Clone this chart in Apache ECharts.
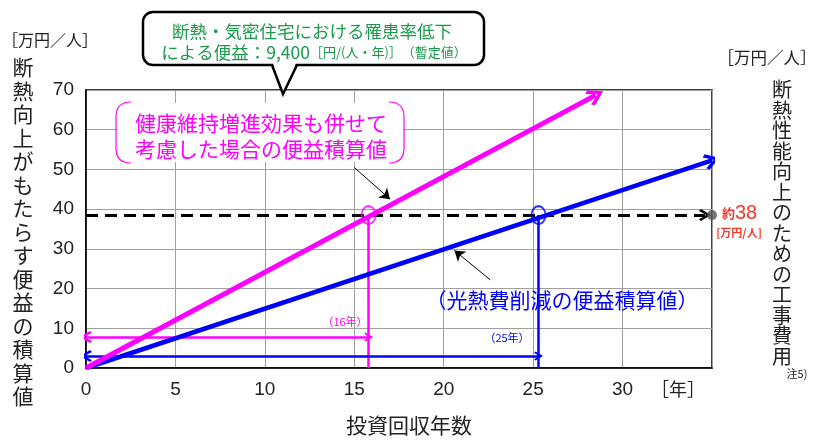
<!DOCTYPE html>
<html>
<head>
<meta charset="utf-8">
<script src="https://cdn.jsdelivr.net/npm/echarts@6/dist/echarts.min.js"></script>
<style>
  html, body { margin: 0; padding: 0; background: #fff; }
  #main { width: 819px; height: 445px; }
</style>
</head>
<body>
<div id="main"></div>
<script>
// 目盛
var xTicks = [0, 5, 10, 15, 20, 25, 30];
var yTicks = [0, 10, 20, 30, 40, 50, 60, 70];
// 便益積算値の直線（始点・終点）
var healthLine = [[0, 0], [28.5, 68.7]];
var energyLine = [[0, 0], [35, 52.3]];
// 工事費用（約38万円/人）
var costLevel = 38.5;
var costLine = [[0, 38.5], [34.6, 38.5]];
var costDot = [[35, 38.5]];
// 回収年数
var paybackHealth = 15.8;
var paybackEnergy = 25.3;
var healthSpan = [[0, 7.8], [15.8, 7.8]];
var energySpan = [[0, 3], [25.3, 3]];
// 引出線
var healthPointer = [[15, 50.5], [17, 42.5]];
var energyPointer = [[22.6, 22.2], [20.6, 29.6]];

var MAGENTA = '#ff00ff', BLUE = '#0000ff', GREEN = '#1a9a4a', RED = '#f03a2a';
var JP = '"Noto Sans CJK JP", sans-serif';
var NUM = '"Liberation Sans", Arial, sans-serif';
var chevron = 'path://M5,0 L10,7 L8.5,8.5 L5,3.2 L1.5,8.5 L0,7 Z';

function vert(s) { return s.split('').join('\n'); }

function arrowLine(coords, color, width, ends, size, dash) {
  return {
    type: 'lines',
    coordinateSystem: 'cartesian2d',
    data: [{ coords: coords }],
    symbol: ends,
    symbolSize: size,
    lineStyle: { color: color, width: width, type: dash || 'solid', opacity: 1 },
    silent: true,
    z: 3
  };
}

// 括弧型の枠（左右）
function bracket(x, dir) {
  var st = { stroke: MAGENTA, lineWidth: 1.2, fill: null };
  var e = x + dir * 15;
  return [
    { type: 'bezierCurve', z: 9, shape: { x1: e, y1: 102, cpx1: x, cpy1: 102, x2: x, y2: 117 }, style: st },
    { type: 'line', z: 9, shape: { x1: x, y1: 117, x2: x, y2: 148 }, style: st },
    { type: 'bezierCurve', z: 9, shape: { x1: x, y1: 148, cpx1: x, cpy1: 163, x2: e, y2: 163 }, style: st }
  ];
}

var myChart = echarts.init(document.getElementById('main'));

var option = {
  animation: false,
  backgroundColor: '#fff',
  grid: { left: 86, right: 107, top: 90, bottom: 77, show: true, borderColor: '#000', borderWidth: 1.5 },
  xAxis: {
    type: 'value', min: 0, max: 35, interval: 5,
    axisLine: { show: true, lineStyle: { color: '#000', width: 1.5 } },
    axisTick: { show: false },
    splitLine: { lineStyle: { color: '#a0a0a0', width: 1 } },
    axisLabel: {
      color: '#222', fontFamily: NUM, fontSize: 19, margin: 12,
      formatter: function (v) { return xTicks.indexOf(v) >= 0 ? String(v) : ''; }
    }
  },
  yAxis: {
    type: 'value', min: 0, max: 70, interval: 10,
    axisLine: { show: true, lineStyle: { color: '#000', width: 1.5 } },
    axisTick: { show: false },
    splitLine: { lineStyle: { color: '#a0a0a0', width: 1 } },
    axisLabel: {
      color: '#222', fontFamily: NUM, fontSize: 19, margin: 12,
      formatter: function (v) { return yTicks.indexOf(v) >= 0 ? String(v) : ''; }
    }
  },
  series: [
    arrowLine(costLine, '#000', 3, ['none', chevron], [14, 12], [12, 7]),
    arrowLine([[paybackHealth, 0], [paybackHealth, costLevel]], MAGENTA, 2.5, ['none', 'none'], 1),
    arrowLine([[paybackEnergy, 0], [paybackEnergy, costLevel]], BLUE, 2.5, ['none', 'none'], 1),
    arrowLine(healthSpan, MAGENTA, 2.5, [chevron, chevron], [12, 9]),
    arrowLine(energySpan, BLUE, 2.5, [chevron, chevron], [12, 9]),
    arrowLine(energyLine, BLUE, 4.5, ['none', chevron], [22, 16]),
    arrowLine(healthLine, MAGENTA, 5, ['none', chevron], [24, 17]),
    arrowLine(healthPointer, '#000', 1, ['none', 'arrow'], [6, 10]),
    arrowLine(energyPointer, '#000', 1, ['none', 'arrow'], [6, 10]),
    {
      type: 'scatter', data: [[paybackHealth, costLevel]], symbol: 'circle', symbolSize: [14, 18],
      itemStyle: { color: 'rgba(0,0,0,0)', borderColor: MAGENTA, borderWidth: 2 }, z: 5, silent: true
    },
    {
      type: 'scatter', data: [[paybackEnergy, costLevel]], symbol: 'circle', symbolSize: [14, 18],
      itemStyle: { color: 'rgba(0,0,0,0)', borderColor: BLUE, borderWidth: 2 }, z: 5, silent: true
    },
    {
      type: 'scatter', data: costDot, symbol: 'circle', symbolSize: 10,
      itemStyle: { color: '#555' }, z: 6, silent: true
    }
  ],
  graphic: [
    // 吹き出し
    { type: 'rect', shape: { x: 143, y: 12, width: 341, height: 53, r: 10 },
      style: { fill: '#fff', stroke: '#000', lineWidth: 2.5 }, z: 10 },
    { type: 'polygon', shape: { points: [[272, 61], [283, 93], [297, 61]] },
      style: { fill: '#fff' }, z: 11 },
    { type: 'polyline', shape: { points: [[272, 65], [283, 94], [297, 65]] },
      style: { stroke: '#000', lineWidth: 2.5, fill: null }, z: 11 },
    { type: 'text', x: 312, y: 31, z: 12,
      style: { text: '断熱・気密住宅における罹患率低下', fill: GREEN, font: '17.5px ' + JP, align: 'center', verticalAlign: 'middle' } },
    { type: 'text', x: 314, y: 52, z: 12,
      style: {
        text: '{a|による便益：9,400}{b|［円/(人・年)］}{b|（暫定値）}',
        fill: GREEN, align: 'center', verticalAlign: 'middle',
        rich: {
          a: { fill: GREEN, fontSize: 17.5, fontFamily: JP },
          b: { fill: GREEN, fontSize: 13, fontFamily: JP }
        }
      } },
    // 健康維持増進効果の枠
    { type: 'rect', shape: { x: 118, y: 103, width: 285, height: 59 },
      style: { fill: '#fff' }, z: 8 }
  ].concat(bracket(116, 1), bracket(404, -1), [
    { type: 'text', x: 261, y: 123, z: 10,
      style: { text: '健康維持増進効果も併せて', fill: MAGENTA, font: '21px ' + JP, align: 'center', verticalAlign: 'middle' } },
    { type: 'text', x: 261, y: 149, z: 10,
      style: { text: '考慮した場合の便益積算値', fill: MAGENTA, font: '21px ' + JP, align: 'center', verticalAlign: 'middle' } },
    // 光熱費削減
    { type: 'text', x: 562, y: 300, z: 10,
      style: { text: '（光熱費削減の便益積算値）', fill: BLUE, font: '21px ' + JP, align: 'center', verticalAlign: 'middle' } },
    { type: 'text', x: 345, y: 322, z: 10,
      style: { text: '（16年）', fill: MAGENTA, font: '11px ' + JP, align: 'center', verticalAlign: 'middle' } },
    { type: 'text', x: 507, y: 338, z: 10,
      style: { text: '（25年）', fill: BLUE, font: '11px ' + JP, align: 'center', verticalAlign: 'middle' } },
    // 約38
    { type: 'text', x: 722, y: 213, z: 10,
      style: {
        text: '{s|約}{n|38}', verticalAlign: 'middle',
        rich: {
          s: { fill: RED, fontSize: 13, fontFamily: JP, fontWeight: 'bold' },
          n: { fill: RED, fontSize: 20, fontFamily: NUM }
        }
      } },
    { type: 'text', x: 739, y: 233, z: 10,
      style: { text: '[万円/人]', fill: RED, font: 'bold 11px ' + JP, align: 'center', verticalAlign: 'middle' } },
    // 左軸名
    { type: 'text', x: 50, y: 40, z: 10,
      style: { text: '［万円／人］', fill: '#222', font: '16px ' + JP, align: 'center', verticalAlign: 'middle' } },
    { type: 'text', x: 23, y: 232, z: 10,
      style: { text: vert('断熱向上がもたらす便益の積算値'), fill: '#222', font: '21px ' + JP, lineHeight: 23.5, align: 'center', verticalAlign: 'middle' } },
    // 右軸名
    { type: 'text', x: 767, y: 58, z: 10,
      style: { text: '［万円／人］', fill: '#222', font: '16.5px ' + JP, align: 'center', verticalAlign: 'middle' } },
    { type: 'text', x: 782, y: 223, z: 10,
      style: { text: vert('断熱性能向上のための工事費用'), fill: '#222', font: '20px ' + JP, lineHeight: 20.5, align: 'center', verticalAlign: 'middle' } },
    { type: 'text', x: 797, y: 374, z: 10,
      style: { text: '注5)', fill: '#222', font: '11px ' + JP, align: 'center', verticalAlign: 'middle' } },
    // x軸名
    { type: 'text', x: 678, y: 389, z: 10,
      style: { text: '［年］', fill: '#222', font: '18px ' + JP, align: 'center', verticalAlign: 'middle' } },
    { type: 'text', x: 409, y: 425, z: 10,
      style: { text: '投資回収年数', fill: '#222', font: '21px ' + JP, align: 'center', verticalAlign: 'middle' } }
  ])
};

myChart.setOption(option);
</script>
</body>
</html>
